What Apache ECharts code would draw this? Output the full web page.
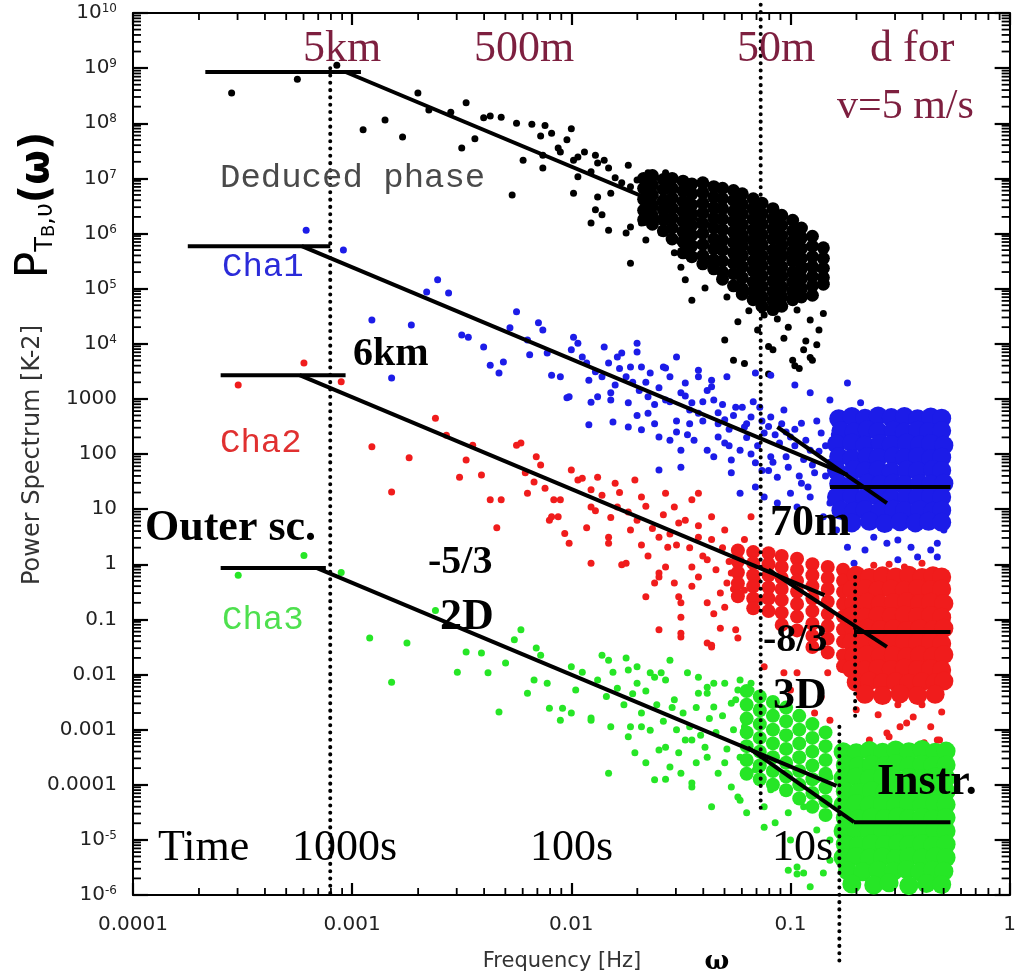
<!DOCTYPE html>
<html><head><meta charset="utf-8">
<script src="https://cdn.jsdelivr.net/npm/echarts@6.0.0/dist/echarts.min.js"></script>
<style>html,body{margin:0;padding:0;background:#fff}#c{width:1019px;height:980px}</style>
</head><body><div id="c"></div>
<script>
// All point values are [log10(frequency Hz), log10(power K^-2)].
const deducedPhasePts = [[-3.55,8.55],[-3.25,8.80],[-3.07,9.05],[-2.95,7.88],[-2.85,8.06],[-2.77,7.75],[-2.70,8.55],[-2.65,8.24],[-2.55,8.20],[-2.50,7.55],[-2.48,8.37],[-2.44,7.72],[-2.40,8.10],[-2.37,8.13],[-2.32,8.11],[-2.27,6.70],[-2.25,8.00],[-2.22,7.33],[-2.18,7.98],[-2.14,7.77],[-2.12,7.96],[-2.13,7.42],[-2.13,7.19],[-2.09,7.82],[-2.06,7.55],[-2.05,7.48],[-2.02,7.70],[-2.00,7.90],[-1.99,7.33],[-1.99,6.73],[-1.97,7.39],[-1.97,7.03],[-1.94,7.48],[-1.91,7.12],[-1.91,6.19],[-1.89,7.42],[-1.88,7.28],[-1.88,6.66],[-1.89,6.43],[-1.86,6.34],[-1.85,7.33],[-1.83,7.19],[-1.83,6.06],[-1.82,6.73],[-1.80,7.01],[-1.77,6.92],[-1.75,6.01],[-1.74,7.24],[-1.73,6.85],[-1.73,6.12],[-1.73,5.46],[-1.70,6.97],[-1.68,6.19],[-1.66,5.88],[-1.65,7.10],[-1.62,7.03],[-1.62,6.25],[-1.59,6.01],[-1.57,7.10],[-1.56,6.93],[-1.55,6.12],[-1.53,5.65],[-1.50,5.39],[-1.48,5.16],[-1.45,4.79],[-1.39,5.01],[-1.36,5.47],[-1.35,5.39],[-1.33,5.76],[-1.29,4.85],[-1.30,4.07],[-1.26,3.70],[-1.15,4.25],[-1.12,4.52],[-1.06,4.45],[-1.01,4.30],[-0.97,4.61],[-0.91,4.43],[-0.94,3.89],[-0.90,3.70],[-0.99,3.70],[-0.87,4.25],[-0.85,4.55],[-1.08,3.89],[-1.10,3.95],[-0.93,4.05],[-0.88,3.98],[-1.03,4.10],[-0.96,3.55],[-0.91,3.75],[-1.21,3.64],[-0.98,3.60],[-1.19,4.60],[-1.24,4.40],[-1.10,3.45]];
const deducedPhaseCore = [[-1.67,7.00],[-1.67,6.82],[-1.67,6.62],[-1.67,6.42],[-1.67,6.25],[-1.63,7.05],[-1.63,6.88],[-1.63,6.70],[-1.63,6.50],[-1.63,6.32],[-1.63,6.17],[-1.58,6.98],[-1.58,6.80],[-1.58,6.60],[-1.58,6.43],[-1.58,6.25],[-1.58,6.05],[-1.54,7.00],[-1.54,6.82],[-1.54,6.64],[-1.54,6.46],[-1.54,6.28],[-1.54,6.10],[-1.54,5.90],[-1.49,6.95],[-1.49,6.77],[-1.49,6.58],[-1.49,6.40],[-1.49,6.22],[-1.49,6.03],[-1.49,5.85],[-1.49,5.65],[-1.45,6.90],[-1.45,6.72],[-1.45,6.52],[-1.45,6.35],[-1.45,6.15],[-1.45,5.97],[-1.45,5.78],[-1.45,5.58],[-1.40,6.92],[-1.40,6.74],[-1.40,6.55],[-1.40,6.37],[-1.40,6.18],[-1.40,6.00],[-1.40,5.80],[-1.40,5.60],[-1.40,5.45],[-1.35,6.85],[-1.35,6.66],[-1.35,6.47],[-1.35,6.28],[-1.35,6.10],[-1.35,5.90],[-1.35,5.72],[-1.35,5.52],[-1.35,5.36],[-1.31,6.82],[-1.31,6.63],[-1.31,6.45],[-1.31,6.26],[-1.31,6.07],[-1.31,5.88],[-1.31,5.70],[-1.31,5.50],[-1.31,5.30],[-1.31,5.17],[-1.26,6.78],[-1.26,6.60],[-1.26,6.40],[-1.26,6.22],[-1.26,6.03],[-1.26,5.84],[-1.26,5.65],[-1.26,5.46],[-1.26,5.27],[-1.26,5.05],[-1.22,6.72],[-1.22,6.53],[-1.22,6.35],[-1.22,6.16],[-1.22,5.97],[-1.22,5.78],[-1.22,5.60],[-1.22,5.40],[-1.22,5.20],[-1.22,5.00],[-1.22,4.90],[-1.17,6.63],[-1.17,6.45],[-1.17,6.26],[-1.17,6.07],[-1.17,5.88],[-1.17,5.70],[-1.17,5.50],[-1.17,5.32],[-1.17,5.12],[-1.17,4.95],[-1.17,4.80],[-1.13,6.55],[-1.13,6.36],[-1.13,6.17],[-1.13,5.98],[-1.13,5.80],[-1.13,5.60],[-1.13,5.42],[-1.13,5.23],[-1.13,5.04],[-1.13,4.85],[-1.13,4.68],[-1.08,6.45],[-1.08,6.27],[-1.08,6.08],[-1.08,5.90],[-1.08,5.70],[-1.08,5.52],[-1.08,5.33],[-1.08,5.14],[-1.08,4.95],[-1.08,4.78],[-1.08,4.62],[-1.04,6.33],[-1.04,6.15],[-1.04,5.96],[-1.04,5.78],[-1.04,5.60],[-1.04,5.40],[-1.04,5.22],[-1.04,5.03],[-1.04,4.85],[-1.04,4.68],[-0.99,6.24],[-0.99,6.05],[-0.99,5.86],[-0.99,5.68],[-0.99,5.50],[-0.99,5.30],[-0.99,5.12],[-0.99,4.95],[-0.99,4.80],[-0.95,6.10],[-0.95,5.92],[-0.95,5.73],[-0.95,5.55],[-0.95,5.36],[-0.95,5.18],[-0.95,5.00],[-0.95,4.85],[-0.90,5.95],[-0.90,5.77],[-0.90,5.58],[-0.90,5.40],[-0.90,5.22],[-0.90,5.05],[-0.90,4.88],[-0.85,5.74],[-0.85,5.55],[-0.85,5.37],[-0.85,5.20],[-0.85,5.08]];

const cha1Pts = [[-3.21,6.06],[-3.04,5.70],[-2.61,5.16],[-2.91,4.43],[-2.73,4.34],[-2.82,3.38],[-2.66,4.94],[-2.56,4.92],[-2.50,4.16],[-2.47,4.12],[-2.40,3.94],[-2.37,3.61],[-2.33,3.47],[-2.31,3.67],[-2.25,4.58],[-2.28,4.29],[-2.20,4.07],[-2.19,3.80],[-2.15,4.38],[-2.13,4.25],[-2.11,3.83],[-2.09,3.43],[-2.05,3.40],[-2.02,3.02],[-1.99,4.12],[-1.97,4.01],[-1.95,3.76],[-1.92,3.34],[-1.91,2.94],[-1.92,2.53],[-1.89,3.49],[-2.00,3.89],[-1.85,3.94],[-1.83,3.65],[-1.77,3.83],[-1.70,4.01],[-1.70,3.85],[-1.73,3.58],[-1.68,3.58],[-1.75,3.40],[-1.58,3.58],[-1.52,3.76],[-1.55,3.40],[-1.48,3.29],[-1.42,3.40],[-1.36,3.22],[-1.29,3.40],[-1.16,3.47],[-1.09,3.43],[-0.98,3.25],[-0.91,3.11],[-2.01,3.04],[-1.88,3.04],[-1.82,3.11],[-1.65,3.04],[-1.79,3.76],[-1.57,3.56],[-1.64,3.47],[-1.42,3.52],[-1.36,3.34],[-0.82,2.98],[-0.74,3.29],[-0.68,2.93],[-1.82,2.98],[-1.74,2.93],[-1.65,2.74],[-1.57,2.98],[-1.50,3.11],[-1.45,2.93],[-1.42,2.74],[-1.35,2.98],[-1.30,2.62],[-1.25,2.85],[-1.21,2.49],[-1.18,2.67],[-1.12,2.38],[-1.09,2.67],[-1.03,2.80],[-1.00,2.31],[-0.95,2.56],[-0.91,2.07],[-0.86,2.38],[-1.81,2.58],[-1.74,2.49],[-1.68,2.44],[-1.60,2.31],[-1.55,2.25],[-1.50,2.07],[-1.44,2.25],[-1.38,2.07],[-1.33,2.31],[-1.27,1.89],[-1.23,2.07],[-1.16,1.84],[-1.09,1.95],[-1.06,1.58],[-1.01,1.76],[-0.95,1.47],[-0.89,1.66],[-1.60,1.71],[-1.50,1.76],[-1.27,1.66],[-1.23,1.29],[-1.16,1.40],[-1.12,1.22],[-1.06,1.11],[-1.00,1.29],[-0.97,1.04],[-0.91,1.22],[-0.85,0.86],[-0.82,1.11],[-0.79,0.62],[-0.74,0.31],[-0.66,0.26],[-0.71,0.02],[-0.62,0.49],[-0.56,0.38],[-0.51,0.44],[-0.45,0.31],[-0.42,0.13],[-0.36,0.26],[-0.33,0.38],[-0.33,0.13],[-0.51,0.08],[-0.59,0.75],[-0.38,0.75],[-0.30,0.62],[-1.40,2.60],[-1.33,2.75],[-1.28,2.45],[-1.20,2.30],[-1.15,2.15],[-1.10,2.50],[-1.05,2.20],[-1.02,1.95],[-0.98,2.15],[-0.94,1.90],[-0.90,1.80],[-0.87,2.05],[-0.84,1.60],[-0.82,1.85],[-0.80,1.40],[-1.18,2.00],[-1.13,1.70],[-1.08,1.85],[-0.96,1.60],[-0.92,1.40],[-1.30,2.20],[-1.46,2.55],[-1.52,2.40],[-1.35,1.95],[-1.04,2.55],[-0.88,2.60],[-0.80,2.35],[-0.84,2.15],[-0.98,2.45],[-1.14,2.85],[-1.93,3.65],[-1.86,3.40],[-1.80,3.25],[-1.78,3.55],[-1.72,3.30],[-1.69,3.15],[-1.66,3.30],[-1.62,2.90],[-1.60,3.20],[-1.55,2.95],[-1.52,2.60],[-1.48,3.05],[-1.46,2.80],[-1.40,2.95],[-1.38,3.15],[-1.33,2.55],[-1.31,2.90],[-1.26,2.70],[-1.22,2.85],[-1.20,2.55],[-1.17,2.95],[-1.13,2.60],[-1.07,2.35],[-1.02,2.40],[-0.93,2.25],[-1.62,2.55],[-1.70,2.70],[-1.47,2.35],[-1.28,2.15],[-1.10,1.70]];
const cha1Core = [[-0.78,2.64],[-0.72,2.68],[-0.66,2.65],[-0.60,2.69],[-0.54,2.66],[-0.48,2.68],[-0.42,2.64],[-0.36,2.67],[-0.31,2.65],[-0.77,2.42],[-0.71,2.40],[-0.65,2.44],[-0.60,2.41],[-0.53,2.43],[-0.48,2.40],[-0.42,2.43],[-0.37,2.41],[-0.31,2.42],[-0.79,2.18],[-0.72,2.20],[-0.66,2.16],[-0.59,2.19],[-0.54,2.17],[-0.47,2.20],[-0.41,2.17],[-0.36,2.19],[-0.30,2.16],[-0.78,1.95],[-0.72,1.92],[-0.65,1.95],[-0.60,1.93],[-0.53,1.96],[-0.48,1.93],[-0.42,1.95],[-0.36,1.92],[-0.31,1.94],[-0.79,1.70],[-0.71,1.72],[-0.66,1.69],[-0.60,1.71],[-0.54,1.68],[-0.47,1.71],[-0.42,1.69],[-0.35,1.72],[-0.31,1.70],[-0.78,1.46],[-0.72,1.44],[-0.65,1.47],[-0.59,1.45],[-0.53,1.47],[-0.48,1.44],[-0.41,1.46],[-0.36,1.45],[-0.30,1.47],[-0.79,1.22],[-0.72,1.24],[-0.66,1.21],[-0.60,1.23],[-0.54,1.20],[-0.47,1.23],[-0.42,1.21],[-0.36,1.24],[-0.31,1.22],[-0.77,0.98],[-0.71,0.96],[-0.66,0.99],[-0.59,0.97],[-0.53,1.00],[-0.48,0.97],[-0.41,0.99],[-0.35,0.96],[-0.31,0.98],[-0.72,0.75],[-0.64,0.78],[-0.57,0.74],[-0.50,0.77],[-0.43,0.75],[-0.37,0.78],[-0.31,0.76]];

const cha2Pts = [[-3.52,3.25],[-3.22,3.65],[-3.05,3.31],[-2.91,2.13],[-2.82,1.31],[-2.74,1.93],[-2.62,2.65],[-2.57,2.34],[-2.51,1.58],[-2.48,1.89],[-2.41,1.62],[-2.45,2.16],[-2.37,1.17],[-2.32,1.17],[-2.25,2.16],[-2.23,2.20],[-2.21,1.66],[-2.20,1.29],[-2.17,1.49],[-2.16,1.95],[-2.14,1.80],[-2.12,1.38],[-2.08,1.17],[-2.05,1.17],[-2.00,1.71],[-1.97,1.53],[-1.95,1.56],[-1.91,1.35],[-1.91,1.04],[-2.09,0.86],[-2.06,0.86],[-2.34,0.66],[-2.10,0.80],[-2.03,0.56],[-1.93,0.66],[-1.91,0.02],[-1.89,0.97],[-1.77,-0.01],[-1.66,-0.59],[-1.62,-0.34],[-1.60,-0.16],[-1.53,-0.34],[-1.50,-0.70],[-1.50,-1.32],[-1.42,-0.23],[-1.45,-0.05],[-1.38,0.08],[-1.36,-1.50],[-1.32,-1.16],[-1.32,-0.52],[-1.30,-0.78],[-1.27,-0.16],[-1.24,-1.34],[-1.23,0.08],[-1.21,-0.47],[-1.18,0.20],[-1.15,-0.29],[-1.14,-0.65],[-2.01,0.38],[-1.83,0.38],[-1.68,0.35],[-1.56,0.31],[-1.88,1.58],[-1.80,1.47],[-1.71,1.53],[-1.79,1.04],[-1.68,1.22],[-1.57,1.29],[-1.53,1.04],[-1.45,1.17],[-1.42,1.29],[-1.36,0.86],[-1.83,0.49],[-1.73,0.62],[-1.60,0.49],[-1.51,0.75],[-1.42,0.49],[-1.30,0.62],[-1.23,0.26],[-1.18,0.86],[-1.75,0.02],[-1.60,-0.23],[-1.51,-0.59],[-1.50,-0.96],[-1.38,-0.70],[-1.29,-0.34],[-1.38,-1.43],[-1.50,-1.25],[-1.25,-1.19],[-1.60,-1.19],[-0.55,-3.13],[-0.47,-2.88],[-0.64,-3.19],[-0.36,-2.95],[-0.33,-3.19],[-0.82,-2.83],[-0.86,-2.41],[-0.97,-1.97],[-1.00,-2.28],[-0.89,-2.70],[-1.36,-1.47],[-1.12,-1.86],[-1.03,-1.97],[-0.83,-1.97],[-0.70,-2.64],[-0.56,-3.06],[-0.50,-2.95],[-0.44,-2.77],[-0.32,-3.19],[-0.44,-3.32],[-0.62,-3.32],[-0.39,-3.24],[-0.60,-2.73],[-0.51,-2.55],[-0.31,-2.68],[-0.40,-2.55],[-0.67,-2.46],[-0.33,-2.43],[-0.55,0.00],[-0.48,-0.05],[-0.40,0.02],[-0.62,-0.02],[-1.86,1.25],[-1.82,0.85],[-1.78,1.30],[-1.74,0.95],[-1.70,0.80],[-1.66,1.05],[-1.63,0.65],[-1.58,0.90],[-1.55,0.55],[-1.52,0.35],[-1.48,0.80],[-1.46,0.30],[-1.42,0.70],[-1.40,0.15],[-1.36,0.45],[-1.34,-0.10],[-1.31,0.30],[-1.28,0.05],[-1.26,-0.45],[-1.21,0.45],[-1.65,0.15],[-1.45,-0.40],[-1.57,-0.05],[-1.35,-0.90]];
const cha2Band = [[-1.24,0.25],[-1.24,0.05],[-1.24,-0.15],[-1.24,-0.35],[-1.24,-0.58],[-1.17,0.22],[-1.17,0.02],[-1.17,-0.20],[-1.17,-0.40],[-1.17,-0.62],[-1.17,-0.80],[-1.10,0.20],[-1.10,0.00],[-1.10,-0.20],[-1.10,-0.42],[-1.10,-0.62],[-1.10,-0.85],[-1.04,0.15],[-1.04,-0.05],[-1.04,-0.25],[-1.04,-0.45],[-1.04,-0.65],[-1.04,-0.88],[-1.04,-1.10],[-0.97,0.10],[-0.97,-0.10],[-0.97,-0.30],[-0.97,-0.50],[-0.97,-0.72],[-0.97,-0.95],[-0.97,-1.20],[-0.90,0.00],[-0.90,-0.20],[-0.90,-0.40],[-0.90,-0.62],[-0.90,-0.85],[-0.90,-1.08],[-0.90,-1.30],[-0.90,-1.50],[-0.83,-0.05],[-0.83,-0.25],[-0.83,-0.45],[-0.83,-0.68],[-0.83,-0.90],[-0.83,-1.12],[-0.83,-1.35],[-0.83,-1.60],[-0.76,-0.10],[-0.76,-0.30],[-0.76,-0.50],[-0.76,-0.72],[-0.76,-0.95],[-0.76,-1.18],[-0.76,-1.40],[-0.76,-1.65],[-0.76,-1.85]];
const cha2Core = [[-0.70,-0.20],[-0.64,-0.24],[-0.58,-0.21],[-0.52,-0.23],[-0.46,-0.20],[-0.40,-0.24],[-0.35,-0.21],[-0.31,-0.23],[-0.72,-0.46],[-0.66,-0.44],[-0.60,-0.47],[-0.54,-0.45],[-0.48,-0.47],[-0.42,-0.44],[-0.36,-0.46],[-0.31,-0.45],[-0.71,-0.71],[-0.65,-0.69],[-0.59,-0.72],[-0.53,-0.70],[-0.47,-0.68],[-0.41,-0.71],[-0.36,-0.69],[-0.30,-0.71],[-0.72,-0.94],[-0.66,-0.96],[-0.60,-0.93],[-0.54,-0.95],[-0.48,-0.92],[-0.42,-0.95],[-0.36,-0.93],[-0.31,-0.96],[-0.71,-1.18],[-0.65,-1.16],[-0.59,-1.19],[-0.53,-1.17],[-0.47,-1.20],[-0.41,-1.17],[-0.35,-1.19],[-0.30,-1.16],[-0.72,-1.42],[-0.66,-1.44],[-0.60,-1.41],[-0.54,-1.43],[-0.48,-1.40],[-0.42,-1.43],[-0.36,-1.41],[-0.31,-1.44],[-0.71,-1.66],[-0.65,-1.64],[-0.59,-1.67],[-0.53,-1.65],[-0.47,-1.68],[-0.41,-1.65],[-0.35,-1.67],[-0.30,-1.64],[-0.72,-1.90],[-0.66,-1.92],[-0.60,-1.89],[-0.54,-1.91],[-0.48,-1.88],[-0.42,-1.91],[-0.36,-1.89],[-0.31,-1.92],[-0.70,-2.14],[-0.64,-2.12],[-0.58,-2.15],[-0.52,-2.13],[-0.46,-2.16],[-0.40,-2.13],[-0.34,-2.15],[-0.30,-2.12],[-0.66,-2.36],[-0.58,-2.38],[-0.50,-2.35],[-0.42,-2.38],[-0.34,-2.36]];

const cha3Pts = [[-3.52,-0.20],[-3.22,0.16],[-3.05,-0.15],[-2.92,-1.34],[-2.75,-1.43],[-2.82,-2.14],[-2.62,-0.84],[-2.52,-1.96],[-2.48,-1.59],[-2.41,-1.61],[-2.38,-1.97],[-2.33,-2.68],[-2.30,-1.79],[-2.26,-1.37],[-2.23,-1.19],[-2.20,-2.34],[-2.17,-2.10],[-2.16,-1.52],[-2.14,-1.65],[-2.11,-2.16],[-2.10,-2.61],[-2.05,-2.83],[-2.04,-2.61],[-2.00,-1.86],[-1.98,-2.28],[-1.95,-1.96],[-1.91,-2.79],[-1.86,-1.65],[-1.81,-1.96],[-1.75,-1.70],[-1.70,-1.86],[-1.64,-1.97],[-1.57,-2.10],[-1.55,-1.74],[-1.47,-1.97],[-1.42,-2.34],[-1.38,-2.23],[-1.35,-2.59],[-1.30,-2.16],[-1.25,-2.46],[-1.23,-2.10],[-1.18,-2.28],[-2.00,-2.70],[-1.91,-2.83],[-1.82,-2.95],[-1.74,-3.13],[-1.71,-3.42],[-1.83,-3.79],[-1.62,-3.91],[-1.68,-2.95],[-1.60,-3.37],[-1.55,-3.68],[-1.51,-3.42],[-1.50,-3.79],[-1.45,-4.04],[-1.45,-3.19],[-1.39,-3.32],[-1.36,-4.40],[-1.33,-3.79],[-1.27,-4.04],[-1.23,-4.28],[-1.21,-2.95],[-1.16,-3.73],[-1.12,-4.40],[-1.07,-4.69],[-1.09,-4.09],[-1.01,-4.51],[-1.00,-5.00],[-0.97,-5.49],[-0.94,-5.60],[-0.88,-4.82],[-1.83,-1.74],[-1.74,-1.92],[-1.70,-2.16],[-1.62,-2.05],[-1.59,-1.97],[-1.53,-2.46],[-1.42,-2.05],[-1.38,-2.34],[-1.35,-2.16],[-1.27,-2.52],[-1.24,-2.28],[-1.18,-2.16],[-1.15,-2.59],[-1.73,-2.95],[-1.64,-3.01],[-1.57,-3.32],[-1.48,-3.19],[-1.45,-3.97],[-1.38,-3.50],[-1.24,-4.22],[-1.20,-4.51],[-1.12,-4.77],[-1.01,-5.55],[-0.97,-5.62],[-0.91,-5.85],[-0.85,-5.60],[-0.82,-5.00],[-0.82,-5.37],[-0.85,-4.51],[-0.94,-4.40],[-0.88,-3.91],[-0.82,-3.86],[-1.88,-2.10],[-1.84,-2.40],[-1.79,-2.25],[-1.76,-2.55],[-1.72,-2.35],[-1.68,-2.70],[-1.66,-2.30],[-1.61,-2.55],[-1.58,-2.85],[-1.54,-2.60],[-1.52,-3.00],[-1.49,-2.70],[-1.46,-2.95],[-1.43,-2.60],[-1.41,-3.10],[-1.37,-2.80],[-1.34,-3.05],[-1.31,-2.75],[-1.29,-3.35],[-1.26,-3.00],[-1.23,-3.50],[-1.66,-3.60],[-1.57,-3.90],[-1.43,-3.60],[-1.30,-3.60]];
const cha3Band = [[-1.20,-2.30],[-1.20,-2.55],[-1.20,-2.80],[-1.20,-3.05],[-1.20,-3.30],[-1.20,-3.55],[-1.20,-3.80],[-1.14,-2.40],[-1.14,-2.65],[-1.14,-2.90],[-1.14,-3.15],[-1.14,-3.40],[-1.14,-3.65],[-1.14,-3.90],[-1.08,-2.50],[-1.08,-2.75],[-1.08,-3.00],[-1.08,-3.25],[-1.08,-3.50],[-1.08,-3.75],[-1.08,-4.00],[-1.02,-2.60],[-1.02,-2.85],[-1.02,-3.10],[-1.02,-3.35],[-1.02,-3.60],[-1.02,-3.85],[-1.02,-4.10],[-0.96,-2.75],[-0.96,-3.00],[-0.96,-3.25],[-0.96,-3.50],[-0.96,-3.75],[-0.96,-4.00],[-0.96,-4.25],[-0.90,-2.90],[-0.90,-3.15],[-0.90,-3.40],[-0.90,-3.65],[-0.90,-3.90],[-0.90,-4.15],[-0.90,-4.40],[-0.84,-3.05],[-0.84,-3.30],[-0.84,-3.55],[-0.84,-3.80],[-0.84,-4.05],[-0.84,-4.30],[-0.84,-4.55]];
const cha3Core = [[-0.76,-3.40],[-0.70,-3.42],[-0.64,-3.38],[-0.58,-3.41],[-0.52,-3.37],[-0.46,-3.40],[-0.40,-3.36],[-0.34,-3.41],[-0.29,-3.39],[-0.75,-3.64],[-0.69,-3.66],[-0.63,-3.63],[-0.57,-3.65],[-0.52,-3.62],[-0.46,-3.66],[-0.40,-3.63],[-0.35,-3.65],[-0.29,-3.64],[-0.76,-3.88],[-0.70,-3.86],[-0.64,-3.89],[-0.58,-3.87],[-0.52,-3.90],[-0.46,-3.87],[-0.40,-3.89],[-0.34,-3.86],[-0.29,-3.88],[-0.75,-4.12],[-0.69,-4.14],[-0.63,-4.11],[-0.57,-4.13],[-0.51,-4.10],[-0.46,-4.13],[-0.40,-4.11],[-0.35,-4.14],[-0.29,-4.12],[-0.76,-4.36],[-0.70,-4.34],[-0.64,-4.37],[-0.58,-4.35],[-0.52,-4.38],[-0.46,-4.35],[-0.40,-4.37],[-0.34,-4.34],[-0.29,-4.36],[-0.75,-4.60],[-0.69,-4.62],[-0.63,-4.59],[-0.57,-4.61],[-0.51,-4.58],[-0.46,-4.61],[-0.40,-4.59],[-0.35,-4.62],[-0.29,-4.60],[-0.76,-4.84],[-0.70,-4.82],[-0.64,-4.85],[-0.58,-4.83],[-0.52,-4.86],[-0.46,-4.83],[-0.40,-4.85],[-0.34,-4.82],[-0.29,-4.84],[-0.75,-5.08],[-0.69,-5.10],[-0.63,-5.07],[-0.57,-5.09],[-0.51,-5.06],[-0.46,-5.09],[-0.40,-5.07],[-0.35,-5.10],[-0.29,-5.08],[-0.76,-5.32],[-0.70,-5.30],[-0.64,-5.33],[-0.58,-5.31],[-0.52,-5.34],[-0.46,-5.31],[-0.40,-5.33],[-0.34,-5.30],[-0.29,-5.32],[-0.74,-5.56],[-0.67,-5.58],[-0.60,-5.55],[-0.53,-5.57],[-0.47,-5.54],[-0.41,-5.58],[-0.35,-5.55],[-0.30,-5.57],[-0.72,-5.80],[-0.62,-5.82],[-0.55,-5.78],[-0.46,-5.83],[-0.38,-5.79],[-0.31,-5.81]];

// Fitted power-law segments, [log10 f, log10 P] end points
const deducedFit = [[[-3.67,8.93],[-2.96,8.93]],[[-3.03,8.93],[-0.84,5.28]]];
const cha1Fit = [[[-3.75,5.77],[-3.10,5.77]],[[-3.23,5.77],[-0.74,1.62]],[[-1.06,2.49],[-0.56,1.11]],[[-0.82,1.40],[-0.27,1.40]]];
const cha2Fit = [[[-3.60,3.43],[-3.03,3.43]],[[-3.24,3.43],[-0.845,-0.56]],[[-1.10,-0.10],[-0.56,-1.50]],[[-0.71,-1.23],[-0.27,-1.23]]];
const cha3Fit = [[[-3.60,-0.07],[-3.12,-0.07]],[[-3.16,-0.07],[-0.79,-4.02]],[[-1.195,-3.32],[-0.71,-4.68]],[[-0.71,-4.68],[-0.27,-4.68]]];
// Vertical dotted scale markers: [log10 f, log10 P top, log10 P bottom]
const scaleMarkers = [[-3.10,9.0,-6.0],[-1.136,10.15,-4.51],[-0.705,-0.23,-2.83],[-0.777,-2.95,-7.2]];

const xTickLabels = {'-4':'0.0001','-3':'0.001','-2':'0.01','-1':'0.1','0':'1'};
const xTickExponents = [-4,-3,-2,-1,0];
const yTickExponents = [10,9,8,7,6,5,4,3,2,1,0,-1,-2,-3,-4,-5,-6];

const toVal = pts => pts.map(p => [Math.pow(10,p[0]), Math.pow(10,p[1])]);

const BLACK='#000', BLUE='#1c1ce8', RED='#f01c1c', GREEN='#26e626';
const series = [];
function scat(pts, color, size){
  series.push({type:'scatter', data: toVal(pts), symbol:'circle', symbolSize:size,
    itemStyle:{color:color, opacity:1}, silent:true, animation:false, z:2});
}
scat(deducedPhasePts, BLACK, 7); scat(deducedPhaseCore, BLACK, 13);
scat(cha1Pts, BLUE, 7); scat(cha1Core, BLUE, 19);
scat(cha2Pts, RED, 7); scat(cha2Band, RED, 14); scat(cha2Core, RED, 19);
scat(cha3Pts, GREEN, 7); scat(cha3Band, GREEN, 14); scat(cha3Core, GREEN, 19);

[deducedFit, cha1Fit, cha2Fit, cha3Fit].forEach(fit => fit.forEach(seg => {
  series.push({type:'line', data: toVal(seg), symbol:'none', showSymbol:false, silent:true, animation:false,
    lineStyle:{color:'#000', width:4, cap:'butt'}, z:5});
}));
scaleMarkers.forEach(m => {
  series.push({type:'line', data: toVal([[m[0],m[1]],[m[0],m[2]]]), symbol:'none', showSymbol:false, silent:true,
    animation:false, clip:false, lineStyle:{color:'#000', width:4, type:[0.1,7.2], cap:'round'}, z:6});
});

function yLabel(v){
  const e = Math.round(Math.log10(v));
  if (yTickExponents.indexOf(e) < 0) return '';
  if (e >= 4 || e <= -5) return '10{sup|' + e + '}';
  if (e >= 0) return String(Math.pow(10,e));
  return Math.pow(10,e).toFixed(-e);
}

const MAROON='#7d1f3f';
const serif='Liberation Serif';
const annotations = [
  ['5km', 303, 49, 44, 'normal', serif, MAROON],
  ['500m', 474, 49, 44, 'normal', serif, MAROON],
  ['50m', 737, 49, 44, 'normal', serif, MAROON],
  ['d for', 870, 49, 44, 'normal', serif, MAROON],
  ['v=5 m/s', 837, 107, 42, 'normal', serif, MAROON],
  ['Deduced phase', 220, 178, 34, 'normal', 'Liberation Mono', '#4a4a4a'],
  ['Cha1', 222, 267, 34, 'normal', 'Liberation Mono', '#2b2bd9'],
  ['Cha2', 220, 443, 34, 'normal', 'Liberation Mono', '#e03030'],
  ['Cha3', 222, 620, 34, 'normal', 'Liberation Mono', '#4ee04e'],
  ['6km', 353, 355, 40, 'bold', serif, '#000'],
  ['Outer sc.', 145, 529, 44, 'bold', serif, '#000'],
  ['-5/3', 428, 563, 40, 'bold', serif, '#000'],
  ['2D', 440, 618, 44, 'bold', serif, '#000'],
  ['70m', 770, 524, 44, 'bold', serif, '#000'],
  ['-8/3', 763, 641, 40, 'bold', serif, '#000'],
  ['3D', 773, 697, 44, 'bold', serif, '#000'],
  ['Instr.', 877, 783, 44, 'bold', serif, '#000'],
  ['Time', 158, 848, 44, 'normal', serif, '#000'],
  ['1000s', 292, 848, 44, 'normal', serif, '#000'],
  ['100s', 530, 848, 44, 'normal', serif, '#000'],
  ['10s', 772, 848, 44, 'normal', serif, '#000']
];
const graphic = annotations.map(a => ({type:'text', x:a[1], y:a[2], z:100, silent:true,
  style:{text:a[0], fontSize:a[3], fontWeight:a[4], fontFamily:a[5], fill:a[6], align:'left', verticalAlign:'middle'}}));
graphic.push({type:'text', x:562, y:962, z:100, silent:true,
  style:{text:'Frequency [Hz]', fontSize:21, fontFamily:'DejaVu Sans', fill:'#333', align:'center', verticalAlign:'middle'}});
graphic.push({type:'text', x:717, y:962, z:100, silent:true,
  style:{text:'ω', fontSize:26, fontWeight:'bold', fontFamily:'DejaVu Serif', fill:'#000', align:'center', verticalAlign:'middle'}});
graphic.push({type:'text', x:33, y:455, rotation:Math.PI/2, z:100, silent:true,
  style:{text:'Power Spectrum [K-2]', fontSize:24, fontFamily:'DejaVu Sans', fill:'#333', align:'center', verticalAlign:'middle'}});
graphic.push({type:'text', x:36, y:205, rotation:Math.PI/2, z:100, silent:true,
  style:{text:'{p|P}{t|T}{b|B}{t|,υ}{w|(ω)}', align:'center', verticalAlign:'middle',
    rich:{p:{fontSize:44, fontFamily:'DejaVu Sans', fill:'#000', verticalAlign:'bottom', lineHeight:44},
          t:{fontSize:24, fontFamily:'DejaVu Sans', fill:'#000', verticalAlign:'bottom', lineHeight:44, padding:[16,0,0,0]},
          b:{fontSize:18, fontFamily:'DejaVu Sans', fill:'#000', verticalAlign:'bottom', lineHeight:44, padding:[24,0,0,0]},
          w:{fontSize:40, fontFamily:'DejaVu Sans', fontWeight:'bold', fill:'#000', verticalAlign:'bottom', lineHeight:44}}}});

const TICK_COLOR = '#000';
const majorTick = len => ({show:true, inside:true, length:len, lineStyle:{color:TICK_COLOR, width:2.2}});
const axisLineStyle = {lineStyle:{color:'#000', width:2}};
const chart = echarts.init(document.getElementById('c'), null, {renderer:'canvas'});
chart.setOption({
  animation:false,
  backgroundColor:'#fff',
  grid:{left:133, right:6, top:13, bottom:85},
  xAxis:[
    {type:'log', logBase:10, min:1e-4, max:1, interval:1, position:'bottom',
     axisLine:axisLineStyle, axisTick:majorTick(12), splitLine:{show:false},
     axisLabel:{margin:20, fontSize:20, fontFamily:'DejaVu Sans', color:'#222',
       formatter:v => xTickLabels[String(Math.round(Math.log10(v)))] || ''}},
    {type:'log', logBase:10, min:1e-4, max:1, interval:1, position:'top',
     axisLine:axisLineStyle, axisTick:majorTick(12), splitLine:{show:false},
     axisLabel:{show:false}}
  ],
  yAxis:[
    {type:'log', logBase:10, min:1e-6, max:1e10, interval:1, position:'left',
     axisLine:axisLineStyle, axisTick:majorTick(15), splitLine:{show:false},
     axisLabel:{margin:16, fontSize:20, fontFamily:'DejaVu Sans', color:'#222', formatter:yLabel,
       rich:{sup:{fontSize:12, fontFamily:'DejaVu Sans', color:'#222', verticalAlign:'top', lineHeight:12}}}},
    {type:'log', logBase:10, min:1e-6, max:1e10, interval:1, position:'right',
     axisLine:axisLineStyle, axisTick:majorTick(15), splitLine:{show:false},
     axisLabel:{show:false}}
  ],
  series:series
});

// Minor log ticks placed through the chart's own axis scales.
const px = v => chart.convertToPixel({xAxisIndex:0}, v);
const py = v => chart.convertToPixel({yAxisIndex:0}, v);
const L = px(1e-4), R = px(1), T = py(1e10), B = py(1e-6);
function tick(x1,y1,x2,y2){ graphic.push({type:'line', z:50, silent:true, shape:{x1:x1,y1:y1,x2:x2,y2:y2}, style:{stroke:TICK_COLOR, lineWidth:1.8}}); }
xTickExponents.forEach(e => {
  if (e === 0) return;
  for (let k=2;k<10;k++){
    const x = px(k*Math.pow(10,e));
    tick(x,B,x,B-7); tick(x,T,x,T+7);
  }
});
yTickExponents.forEach(e => {
  if (e === 10) return;
  for (let k=2;k<10;k++){
    const y = py(k*Math.pow(10,e));
    tick(L,y,L+8,y); tick(R,y,R-8,y);
  }
});
chart.setOption({graphic:graphic});
</script></body></html>
